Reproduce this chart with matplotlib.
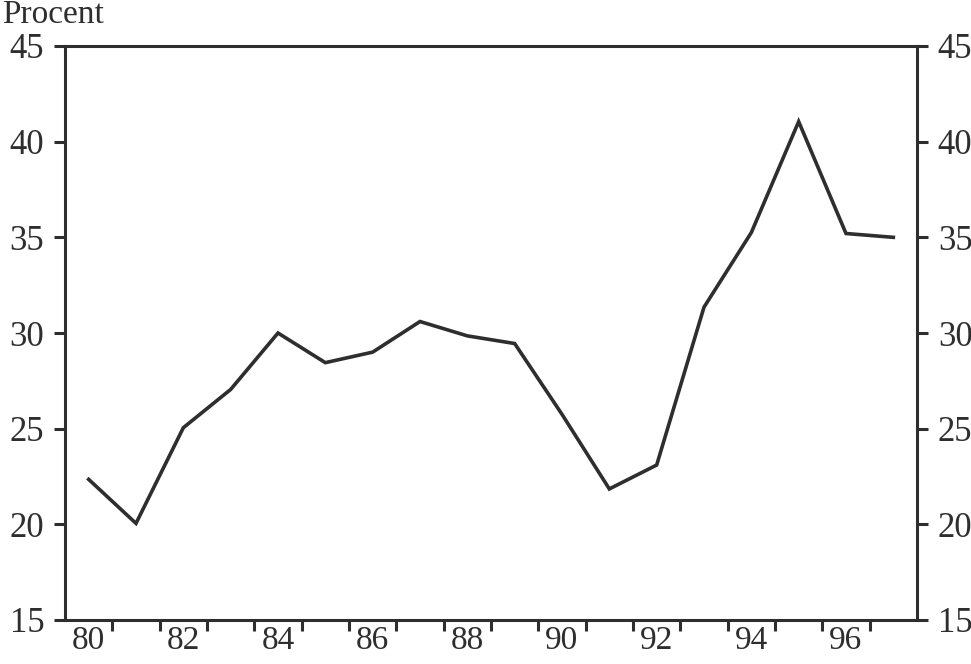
import matplotlib
matplotlib.use("Agg")
import matplotlib.pyplot as plt
import numpy as np

years = [80, 81, 82, 83, 84, 85, 86, 87, 88, 89, 90, 91, 92, 93, 94, 95, 96, 97]
values = [22.35, 20.05, 25.05, 27.05, 30.0, 28.45, 29.0, 30.6, 29.85, 29.45,
          25.75, 21.85, 23.1, 31.35, 35.25, 41.05, 35.2, 35.0]
year_labels = ["80", "82", "84", "86", "88", "90", "92", "94", "96"]
label_years = [80, 82, 84, 86, 88, 90, 92, 94, 96]
y_ticks = [15, 20, 25, 30, 35, 40, 45]

plt.rcParams['font.family'] = ['Liberation Serif', 'DejaVu Serif']
ink = '#2e2e2e'

fig = plt.figure(figsize=(9.71, 6.64), dpi=100)
ax = fig.add_axes([65/971, 1-620/664, (917-65)/971, (620-46)/664])

ax.plot(years, values, color=ink, lw=2.6, solid_joinstyle='miter')

ax.set_xlim(79.5, 97.5)
ax.set_ylim(15, 45)

for s in ax.spines.values():
    s.set_color(ink)
    s.set_linewidth(2.2)

# x: tick marks at year boundaries, labels centered on even years
ax.set_xticks(np.arange(80.5, 97.5, 1.0))
ax.set_xticklabels([])
ax.set_xticks(label_years, minor=True)
ax.set_xticklabels(year_labels, minor=True)
ax.tick_params(axis='x', which='major', direction='out', length=8, width=2.2,
               color=ink, bottom=True, top=False)
ax.tick_params(axis='x', which='minor', length=0, pad=4, labelsize=24,
               labelcolor=ink)

ax.set_yticks(y_ticks)
ax.set_yticklabels([str(v) for v in y_ticks])
ax.tick_params(axis='y', direction='out', length=8, width=2.2, color=ink,
               left=True, right=True, labelleft=True, labelright=True,
               labelsize=25, labelcolor=ink, pad=7)

fig.text(2/971, 1-23/664, "Procent", fontsize=24, color=ink,
         ha='left', va='baseline')

fig.savefig("out.png", dpi=100)
